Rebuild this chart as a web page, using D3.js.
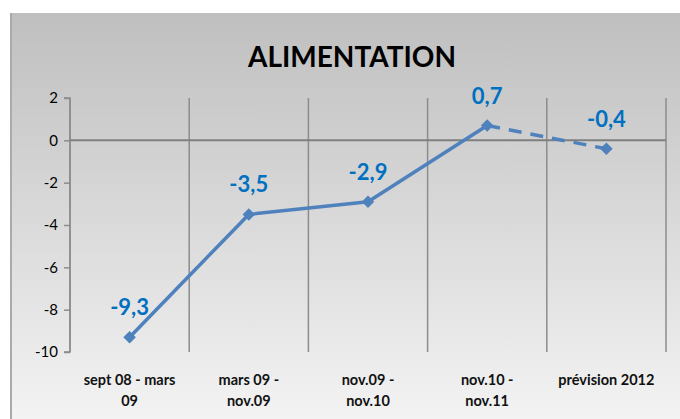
<!DOCTYPE html>
<html>
<head>
<meta charset="utf-8">
<script src="https://cdn.jsdelivr.net/npm/d3@7"></script>
<style>
  body { margin: 0; background: #fff; }
  svg { display: block; font-family: "Lato", "Open Sans", sans-serif; }
</style>
</head>
<body>
<div id="chart"></div>
<script>
// data
const categories = [["sept 08 - mars", "09"], ["mars 09 -", "nov.09"], ["nov.09 -", "nov.10"], ["nov.10 -", "nov.11"], ["prévision 2012"]];
const values = [-9.3, -3.5, -2.9, 0.7, -0.4];
const labels = ["-9,3", "-3,5", "-2,9", "0,7", "-0,4"];
const yTicks = [2, 0, -2, -4, -6, -8, -10];

const width = 680, height = 419;
const plotLeft = 70, plotRight = 666, plotTop = 98, plotBottom = 352;

const svg = d3.select("#chart").append("svg")
    .attr("width", width)
    .attr("height", height);

// background gradient of the chart area
const grad = svg.append("defs").append("linearGradient")
    .attr("id", "bg").attr("x1", 0).attr("y1", 0).attr("x2", 0).attr("y2", 1);
grad.append("stop").attr("offset", "0%").attr("stop-color", "#bfbfbf");
grad.append("stop").attr("offset", "100%").attr("stop-color", "#f3f3f3");

svg.append("rect")
    .attr("x", 10).attr("y", 13)
    .attr("width", width - 10).attr("height", height - 13)
    .attr("fill", "url(#bg)");
svg.append("line")
    .attr("x1", 11).attr("x2", 11).attr("y1", 13).attr("y2", height)
    .style("stroke", "#aaaaaa").style("stroke-width", 2);

// scales
const x = d3.scaleBand(d3.range(categories.length), [plotLeft, plotRight]);
const y = d3.scaleLinear([-10, 2], [plotBottom, plotTop]);

// vertical grid lines between categories
const edges = d3.range(categories.length + 1).map(i => plotLeft + i * x.step());
svg.selectAll("line.vgrid")
    .data(edges)
    .enter()
    .append("line")
    .attr("class", "vgrid")
    .attr("x1", d => d).attr("x2", d => d)
    .attr("y1", plotTop).attr("y2", plotBottom)
    .style("stroke", "#8c8c8c")
    .style("stroke-width", 1.5);

// y axis (plain hyphen for negatives, like the original)
const yAxis = d3.axisLeft(y).tickValues(yTicks).tickSize(6).tickPadding(6)
    .tickFormat(d => String(d));
const gy = svg.append("g")
    .attr("transform", `translate(${plotLeft},0)`)
    .call(yAxis);
gy.select(".domain").style("stroke", "#8c8c8c").style("stroke-width", 1.5)
    .attr("d", `M-6,${plotTop}H0V${plotBottom}H-6`);
gy.selectAll(".tick line").style("stroke", "#8c8c8c").style("stroke-width", 1.5);
gy.selectAll("text").style("font-size", "15px").style("fill", "#000")
    .style("font-family", "Lato, sans-serif");

// zero line
svg.append("line")
    .attr("x1", plotLeft).attr("x2", plotRight)
    .attr("y1", y(0)).attr("y2", y(0))
    .style("stroke", "#7f7f7f")
    .style("stroke-width", 2);

// category labels
const cx = i => x(i) + x.bandwidth() / 2;
svg.selectAll("text.cat")
    .data(categories)
    .enter()
    .append("text")
    .attr("class", "cat")
    .attr("x", (d, i) => cx(i))
    .attr("y", 385)
    .attr("text-anchor", "middle")
    .style("font-size", "14.5px")
    .style("font-weight", "bold")
    .style("fill", "#111")
    .each(function(d) {
        d.forEach((t, j) => {
            d3.select(this).append("tspan")
                .attr("x", d3.select(this).attr("x"))
                .attr("dy", j === 0 ? 0 : 21)
                .text(t);
        });
    });

// line: solid for observed, dashed for forecast
const line = d3.line().x(d => cx(d.i)).y(d => y(d.v));
const pts = values.map((v, i) => ({i: i, v: v}));
svg.append("path")
    .datum(pts.slice(0, 4))
    .attr("d", line)
    .style("fill", "none")
    .style("stroke", "#4f81bd")
    .style("stroke-width", 3.5);
svg.append("path")
    .datum(pts.slice(3))
    .attr("d", line)
    .style("fill", "none")
    .style("stroke", "#4f81bd")
    .style("stroke-width", 3.5)
    .style("stroke-dasharray", "13,9");

// diamond markers
svg.selectAll("path.marker")
    .data(pts)
    .enter()
    .append("path")
    .attr("class", "marker")
    .attr("d", d3.symbol(d3.symbolDiamond2, 100))
    .attr("transform", d => `translate(${cx(d.i)},${y(d.v)})`)
    .style("fill", "#4f81bd");

// data labels
svg.selectAll("text.lbl")
    .data(pts)
    .enter()
    .append("text")
    .attr("class", "lbl")
    .attr("x", d => cx(d.i))
    .attr("y", d => y(d.v) - 22)
    .attr("text-anchor", "middle")
    .style("font-size", "22px")
    .style("font-weight", "bold")
    .style("fill", "#0070c0")
    .text((d, i) => labels[i]);

// title
svg.append("text")
    .attr("x", 352)
    .attr("y", 67)
    .attr("text-anchor", "middle")
    .style("font-size", "28px")
    .style("font-weight", "bold")
    .style("fill", "#000")
    .text("ALIMENTATION");
</script>
</body>
</html>
